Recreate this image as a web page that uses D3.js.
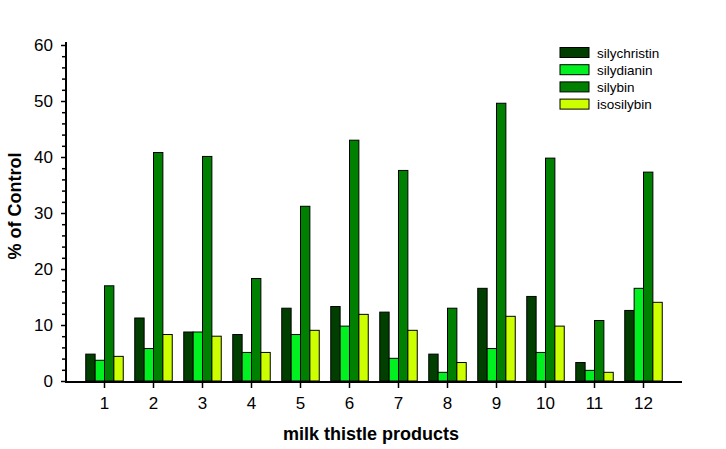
<!DOCTYPE html>
<html><head><meta charset="utf-8">
<script src="https://cdn.jsdelivr.net/npm/d3@7"></script>
<style>body{margin:0;background:#fff}svg{display:block}text{font-family:"Liberation Sans",Arial,sans-serif}</style>
</head><body>
<svg id="c" width="726" height="449"></svg>
<script>
const categories = ["1","2","3","4","5","6","7","8","9","10","11","12"];
const seriesNames = ["silychristin","silydianin","silybin","isosilybin"];
const silychristin = [4.8, 11.25, 8.75, 8.3, 13.0, 13.3, 12.3, 4.8, 16.55, 15.1, 3.3, 12.6];
const silydianin   = [3.7, 5.8, 8.75, 5.1, 8.3, 9.8, 4.05, 1.55, 5.8, 5.1, 1.9, 16.55];
const silybin      = [17.0, 40.8, 40.1, 18.3, 31.2, 43.0, 37.6, 13.0, 49.6, 39.8, 10.8, 37.3];
const isosilybin   = [4.4, 8.3, 8.0, 5.1, 9.05, 11.9, 9.05, 3.3, 11.55, 9.8, 1.55, 14.05];
const yTicks = [0,10,20,30,40,50,60];
const colors = ["#003f00","#00f020","#008000","#ccff00"];

const series = [silychristin, silydianin, silybin, isosilybin];
const svg = d3.select("#c");
const y = d3.scaleLinear().domain([0,60]).range([381,45]);
const x = d3.scaleBand().domain(categories).range([80,668]).paddingInner(0.235).paddingOuter(0.1175);
const xs = d3.scaleBand().domain(seriesNames).range([0, x.bandwidth()]);

// bars
const g = svg.append("g");
categories.forEach((c,i)=>{
  seriesNames.forEach((s,j)=>{
    const v = series[j][i];
    g.append("rect")
      .attr("x", x(c)+xs(s)).attr("y", y(v))
      .attr("width", xs.bandwidth()).attr("height", y(0)-y(v))
      .attr("fill", colors[j]).attr("stroke","#000").attr("stroke-width",1);
  });
});

// y axis
const ya = svg.append("g").attr("transform","translate(66,0)")
  .call(d3.axisLeft(y).tickValues(yTicks).tickSize(5).tickPadding(8));
ya.select(".domain").remove();
ya.selectAll("text").attr("font-size",17).attr("fill","#000").attr("font-family","Liberation Sans, Arial");
ya.selectAll("line").attr("stroke","#000").attr("stroke-width",1.5);
const yminor = svg.append("g").attr("transform","translate(66,0)")
  .call(d3.axisLeft(y).tickValues(d3.range(0,61,2).filter(v=>v%10!==0)).tickSize(4).tickFormat(""));
yminor.select(".domain").remove();
yminor.selectAll("line").attr("stroke","#000").attr("stroke-width",1.5);
svg.append("line").attr("x1",66).attr("x2",66).attr("y1",y(60)-3).attr("y2",y(0)+1.5)
  .attr("stroke","#000").attr("stroke-width",2);

// x axis
const xa = svg.append("g").attr("transform","translate(0,382)")
  .call(d3.axisBottom(x).tickSize(6).tickPadding(9));
xa.select(".domain").remove();
xa.selectAll("text").attr("font-size",17).attr("fill","#000").attr("font-family","Liberation Sans, Arial");
xa.selectAll("line").attr("stroke","#000").attr("stroke-width",1.5);
svg.append("line").attr("x1",65).attr("x2",682).attr("y1",382).attr("y2",382)
  .attr("stroke","#000").attr("stroke-width",2);

// titles
svg.append("text").attr("x",371).attr("y",440).attr("text-anchor","middle")
  .attr("font-size",18).attr("font-weight","bold").text("milk thistle products");
svg.append("text").attr("transform","translate(21,206) rotate(-90)").attr("text-anchor","middle")
  .attr("font-size",18).attr("font-weight","bold").text("% of Control");

// legend
const lg = svg.append("g");
seriesNames.forEach((s,j)=>{
  const yy = 47.5 + j*17.2;
  lg.append("rect").attr("x",560).attr("y",yy).attr("width",29).attr("height",10)
    .attr("fill",colors[j]).attr("stroke","#000").attr("stroke-width",1);
  lg.append("text").attr("x",597).attr("y",yy+10).attr("font-size",13.5).text(s);
});
</script>
</body></html>
